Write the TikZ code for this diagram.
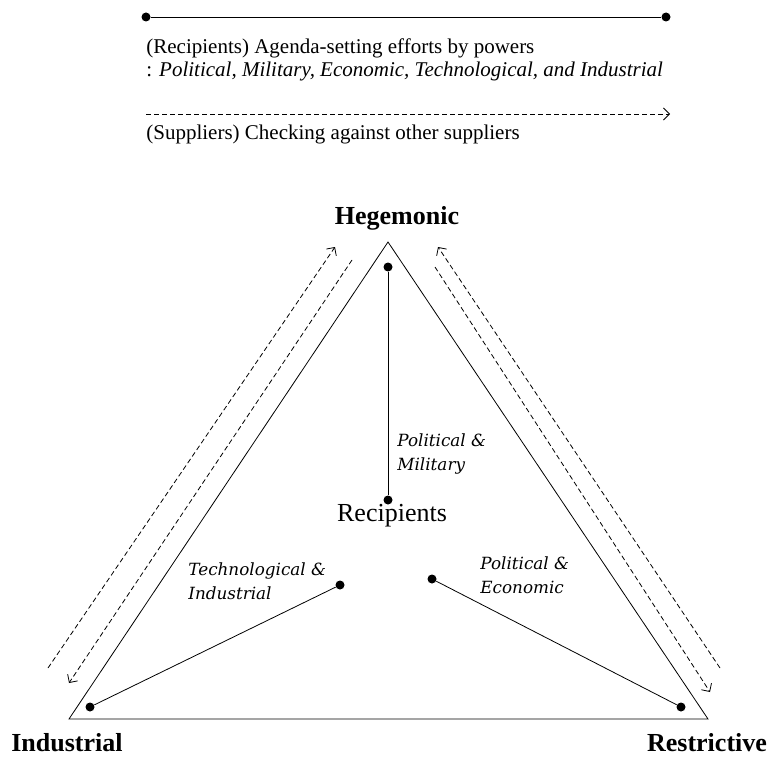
\documentclass[tikz,border=0pt]{standalone}
\usepackage{fontspec}
\setmainfont{Liberation Serif}
\newfontfamily\tagfont{DejaVu Serif}
\usetikzlibrary{arrows.meta}

\begin{document}
\begin{tikzpicture}[
    x=1pt, y=-1pt,
    line width=0.8pt,
    dot/.style={circle, fill=black, inner sep=0pt, minimum size=9pt},
    supply/.style={dash pattern=on 5pt off 3pt, -{Straight Barb[length=6pt, width=12pt]}},
    corner/.style={font=\fontsize{26}{29}\selectfont\bfseries, anchor=base, inner sep=0pt},
    tag/.style={font=\tagfont\itshape\fontsize{16.8}{24}\selectfont, align=left, anchor=west, inner sep=0pt},
    legend/.style={font=\fontsize{21}{23}\selectfont, anchor=base west, inner sep=0pt}
]
\useasboundingbox (0,0) rectangle (769,757);

% legend
\node[dot] (l1) at (146,17) {};
\node[dot] (l2) at (666,17) {};
\draw (l1) -- (l2);
\node[legend] (lt1) at (146,54) {(Recipients) Agenda-setting efforts by powers};
\node[legend] (lt2) at (146,77) {: \textit{Political, Military, Economic, Technological, and Industrial}};
\coordinate (s1) at (146,114);
\coordinate (s2) at (670,114);
\draw[supply] (s1) -- (s2);
\node[legend] (lt3) at (146,140) {(Suppliers) Checking against other suppliers};

% triangle
\coordinate (top) at (388,242);
\coordinate (left) at (69,719);
\coordinate (right) at (708,719);
\draw (top) -- (left) -- (right) -- cycle;

\node[corner] (heg) at (397,225) {Hegemonic};
\node[corner] (ind) at (67,751) {Industrial};
\node[corner] (res) at (707,751) {Restrictive};

% spokes
\node[dot] (dtop) at (388,267) {};
\node[dot] (dmid) at (388,500) {};
\node[dot] (dlin) at (340,585) {};
\node[dot] (dleft) at (90,707) {};
\node[dot] (drin) at (432,579) {};
\node[dot] (dright) at (681,707) {};
\draw (dtop) -- (dmid);
\draw (dlin) -- (dleft);
\draw (drin) -- (dright);

\node[font=\fontsize{26}{29}\selectfont] (rec) at (392,516) {Recipients};
\node[tag] (pm) at (397,454) {Political \&\\Military};
\node[tag] (ti) at (188,581) {Technological \&\\Industrial};
\node[tag] (pe) at (480,575) {Political \&\\Economic};

% suppliers checking each other
\coordinate (a1) at (48,668);
\coordinate (a2) at (335,247);
\coordinate (b1) at (352,260);
\coordinate (b2) at (69,683);
\coordinate (c1) at (720,668);
\coordinate (c2) at (438,247);
\coordinate (d1) at (435,267);
\coordinate (d2) at (710,692);
\draw[supply] (a1) -- (a2);
\draw[supply] (b1) -- (b2);
\draw[supply] (c1) -- (c2);
\draw[supply] (d1) -- (d2);
\end{tikzpicture}
\end{document}
